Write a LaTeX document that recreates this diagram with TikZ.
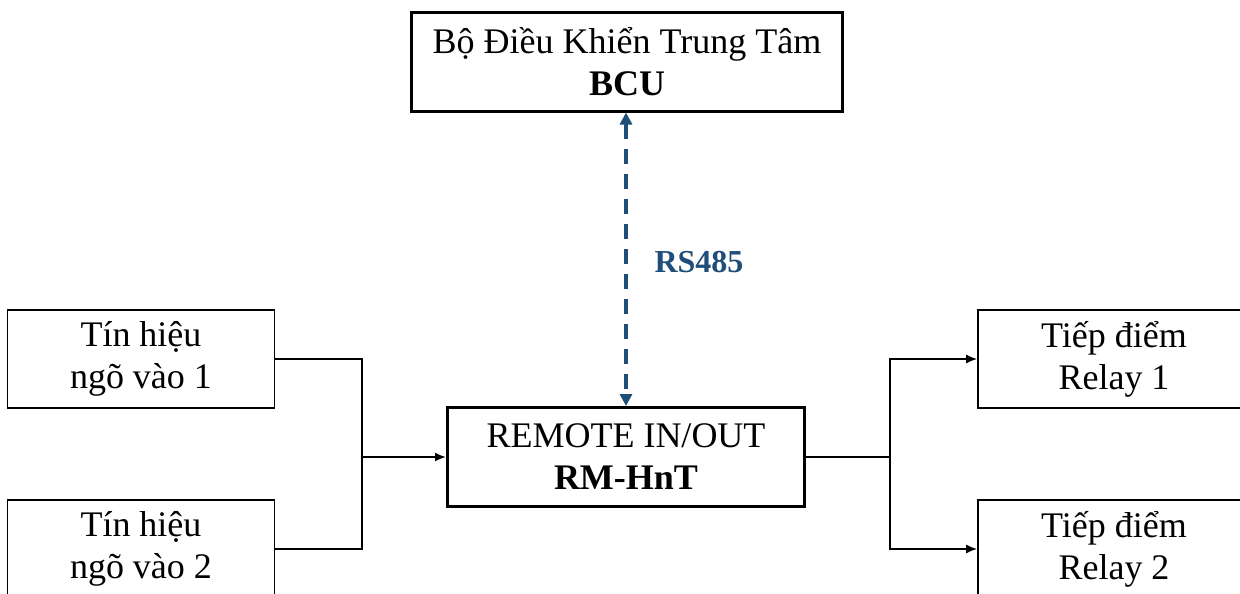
\documentclass[tikz,border=0pt]{standalone}
\usepackage{fontspec}
\setmainfont{Liberation Serif}
\usetikzlibrary{arrows.meta}
\definecolor{linkblue}{RGB}{31,78,121}
\begin{document}
\begin{tikzpicture}[x=1pt,y=-1pt,
  box/.style={draw=black,line width=1.6pt,minimum width=#1,minimum height=98pt,inner sep=0pt,align=center,font=\fontsize{36}{42}\selectfont,execute at begin node={\rule{0pt}{38pt}}},
  mainbox/.style={box=#1,line width=3pt},
  conn/.style={draw=black,line width=1.8pt},
  arr/.style={conn,-{Latex[length=11pt,width=9pt]}},
  link/.style={draw=linkblue,line width=3.8pt,dash pattern=on 15pt off 10pt,{Triangle[length=12pt,width=12pt]}-{Triangle[length=12pt,width=12pt]}}
]
\useasboundingbox (0,0) rectangle (1240,594);
\begin{scope}
\clip (0,0) rectangle (1240,594);
\node[mainbox=431pt] (bcu) at (627,62) {Bộ Điều Khiển Trung Tâm\\\textbf{BCU}};
\node[mainbox=357pt,minimum height=99pt] (rm) at (626,457) {REMOTE IN/OUT\\\textbf{RM-HnT}};
\node[box=267pt] (in1) at (141,359) {Tín hiệu\\ngõ vào 1};
\node[box=267pt] (in2) at (141,549) {Tín hiệu\\ngõ vào 2};
\node[box=272pt] (r1) at (1114,359) {Tiếp điểm\\Relay 1};
\node[box=272pt] (r2) at (1114,549) {Tiếp điểm\\Relay 2};
\coordinate (jl) at (362,457);
\coordinate (jr) at (890,457);
\draw[conn] (in1.east) -| (jl);
\draw[conn] (in2.east) -| (jl);
\draw[arr] (jl) -- (rm.west);
\draw[conn] (rm.east) -- (jr);
\draw[arr] (jr) |- (r1.west);
\draw[arr] (jr) |- (r2.west);
\draw[link] (bcu.south -| rm.north) -- (rm.north);
\node[text=linkblue,font=\fontsize{32}{38}\selectfont\bfseries] (rs) at (699,262) {RS485};
\end{scope}
\end{tikzpicture}
\end{document}
